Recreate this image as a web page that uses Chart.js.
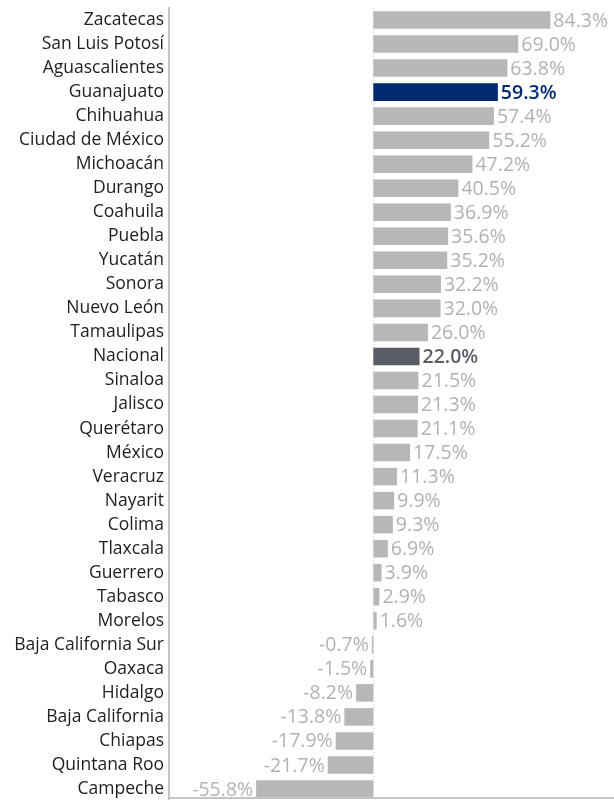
<!DOCTYPE html>
<html>
<head>
<meta charset="utf-8">
<script src="https://cdn.jsdelivr.net/npm/chart.js@4.4.0/dist/chart.umd.min.js"></script>
<style>
  html, body { margin: 0; padding: 0; background: #fff; overflow: hidden; }
</style>
</head>
<body>
<canvas id="chart" width="614" height="802"></canvas>
<script>
const states = ['Zacatecas', 'San Luis Potosí', 'Aguascalientes', 'Guanajuato', 'Chihuahua', 'Ciudad de México',
    'Michoacán', 'Durango', 'Coahuila', 'Puebla', 'Yucatán', 'Sonora', 'Nuevo León', 'Tamaulipas', 'Nacional',
    'Sinaloa', 'Jalisco', 'Querétaro', 'México', 'Veracruz', 'Nayarit', 'Colima', 'Tlaxcala', 'Guerrero',
    'Tabasco', 'Morelos', 'Baja California Sur', 'Oaxaca', 'Hidalgo', 'Baja California', 'Chiapas',
    'Quintana Roo', 'Campeche'];
const growth = [84.3, 69.0, 63.8, 59.3, 57.4, 55.2, 47.2, 40.5, 36.9, 35.6, 35.2, 32.2, 32.0, 26.0, 22.0,
    21.5, 21.3, 21.1, 17.5, 11.3, 9.9, 9.3, 6.9, 3.9, 2.9, 1.6, -0.7, -1.5, -8.2, -13.8, -17.9, -21.7, -55.8];
const highlight = { 'Guanajuato': '#002b73', 'Nacional': '#5a5e66' };

const barColors = states.map(s => highlight[s] || '#b5b7b8');

// value labels at the end of each bar
const valueLabels = {
    id: 'valueLabels',
    afterDatasetsDraw(chart) {
        const ctx = chart.ctx;
        const meta = chart.getDatasetMeta(0);
        ctx.save();
        ctx.textBaseline = 'middle';
        meta.data.forEach((bar, i) => {
            const v = growth[i];
            const special = highlight[states[i]];
            ctx.font = (special ? '600 ' : '') + '19.5px "Open Sans"';
            ctx.fillStyle = special || '#b0b2b3';
            const text = v.toFixed(1) + '%';
            if (v >= 0) {
                ctx.textAlign = 'left';
                ctx.fillText(text, bar.x + 3, bar.y + 1);
            } else {
                ctx.textAlign = 'right';
                ctx.fillText(text, bar.x - 3, bar.y + 1);
            }
        });
        ctx.restore();
    }
};

// dotted zero line and bottom axis line
const axisLines = {
    id: 'axisLines',
    beforeDatasetsDraw(chart) {
        const ctx = chart.ctx;
        const area = chart.chartArea;
        const x0 = chart.scales.x.getPixelForValue(0);
        ctx.save();
        ctx.strokeStyle = '#d0d0d0';
        ctx.lineWidth = 1;
        ctx.setLineDash([1, 2]);
        ctx.beginPath();
        ctx.moveTo(Math.round(x0) + 0.5, area.top);
        ctx.lineTo(Math.round(x0) + 0.5, area.bottom);
        ctx.stroke();
        ctx.restore();
    },
    afterDatasetsDraw(chart) {
        const ctx = chart.ctx;
        ctx.save();
        ctx.strokeStyle = '#c4c4c4';
        ctx.lineWidth = 2;
        ctx.beginPath();
        ctx.moveTo(168, 798);
        ctx.lineTo(614, 798);
        ctx.stroke();
        ctx.restore();
    }
};

new Chart(document.getElementById('chart').getContext('2d'), {
    type: 'bar',
    data: {
        labels: states,
        datasets: [{
            data: growth,
            backgroundColor: barColors,
            categoryPercentage: 1,
            barPercentage: 0.73
        }]
    },
    options: {
        indexAxis: 'y',
        responsive: false,
        animation: false,
        layout: { padding: { top: 8, right: 0, bottom: 1, left: 0 } },
        plugins: { legend: { display: false }, tooltip: { enabled: false } },
        scales: {
            x: { display: false, min: -97.3, max: 114.6 },
            y: {
                afterFit(scale) {
                    scale.width = 169;
                    scale.paddingTop = 0;
                    scale.paddingBottom = 0;
                },
                grid: { display: false, drawTicks: false },
                border: { display: true, color: '#c4c4c4', width: 2 },
                ticks: {
                    color: '#1e1e1e',
                    padding: 5,
                    font: { family: '"Open Sans"', size: 17.5 },
                    autoSkip: false
                }
            }
        }
    },
    plugins: [axisLines, valueLabels]
});
</script>
</body>
</html>
